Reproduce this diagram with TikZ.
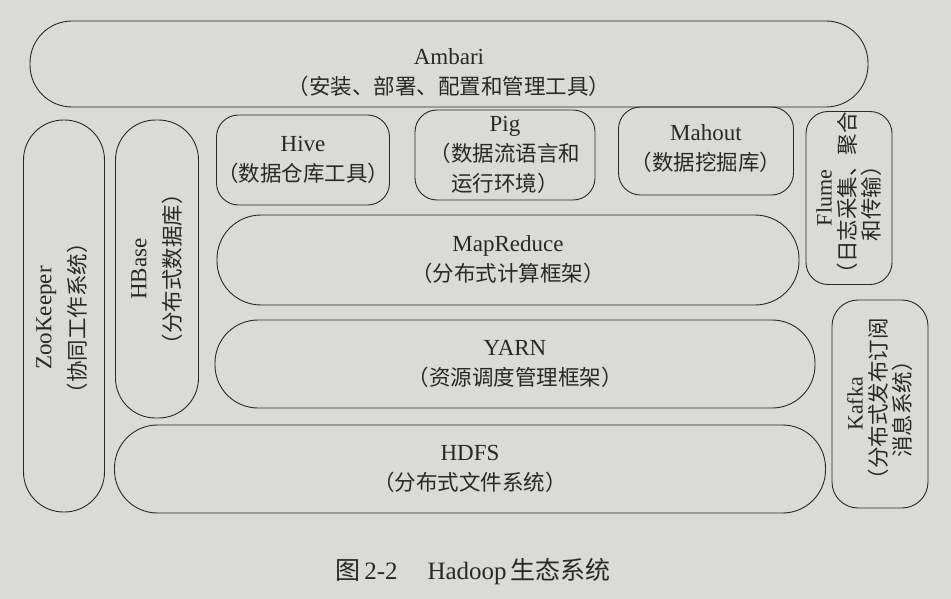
\documentclass[tikz,border=0pt]{standalone}
\usepackage{fontspec}
\setmainfont{Liberation Serif}
\newfontfamily\cjk{Noto Sans CJK SC}
\definecolor{page}{RGB}{218,218,215}
\definecolor{ink}{RGB}{40,40,40}
\begin{document}
\begin{tikzpicture}[x=1pt,y=-1pt,
  box/.style={draw=ink, line width=0.9pt, inner sep=0pt, rectangle},
  lbl/.style={text=ink, align=center, font=\fontsize{23}{30}\selectfont, inner sep=0pt},
  captiontext/.style={text=ink, font=\fontsize{25}{30}\selectfont, inner sep=0pt}]
\fill[page] (0,0) rectangle (951,599);
\useasboundingbox (0,0) rectangle (951,599);
% boxes
\node[box, minimum width=838pt, minimum height=86pt, rounded corners=42pt] (ambari) at (449,64) {};
\node[box, rotate=90, minimum width=392pt, minimum height=81pt, rounded corners=40pt] (zk) at (64,316) {};
\node[box, rotate=90, minimum width=298pt, minimum height=83pt, rounded corners=40pt] (hbase) at (157,269) {};
\node[box, minimum width=173pt, minimum height=90pt, rounded corners=22pt] (hive) at (303,160) {};
\node[box, minimum width=180pt, minimum height=90pt, rounded corners=22pt] (pig) at (505,155) {};
\node[box, minimum width=175pt, minimum height=88pt, rounded corners=22pt] (mahout) at (706,151) {};
\node[box, rotate=90, minimum width=173pt, minimum height=86pt, rounded corners=22pt] (flume) at (849,198) {};
\node[box, minimum width=582pt, minimum height=90pt, rounded corners=44pt] (mr) at (508,260) {};
\node[box, minimum width=600pt, minimum height=88pt, rounded corners=43pt] (yarn) at (515,364) {};
\node[box, rotate=90, minimum width=208pt, minimum height=96pt, rounded corners=26pt] (kafka) at (880,404) {};
\node[box, minimum width=711pt, minimum height=88pt, rounded corners=43pt] (hdfs) at (470,469) {};
% labels
\newcommand\zh[1]{{\cjk\fontsize{21.5}{30}\selectfont #1}}
\node[lbl] (tambari) at ([yshift=-9pt]ambari.center) {Ambari\\\zh{（安装、部署、配置和管理工具）}};
\node[lbl, rotate=90, font=\fontsize{23}{34}\selectfont] (tzk) at ([yshift=-2pt,xshift=-2pt]zk.center) {ZooKeeper\\\zh{（协同工作系统）}};
\node[lbl, rotate=90, font=\fontsize{23}{34}\selectfont] (thbase) at (hbase.center) {HBase\\\zh{（分布式数据库）}};
\node[lbl] (thive) at (hive.center) {Hive\\\zh{（数据仓库工具）}};
\node[lbl] (tpig) at (pig.center) {Pig\\\zh{（数据流语言和}\\\zh{运行环境）}};
\node[lbl] (tmahout) at ([yshift=2pt]mahout.center) {Mahout\\\zh{（数据挖掘库）}};
\node[lbl, rotate=90, font=\fontsize{22}{24}\selectfont] (tflume) at (flume.center) {Flume\\\zh{（日志采集、聚合}\\\zh{和传输）}};
\node[lbl, rotate=90, font=\fontsize{22}{24}\selectfont] (tkafka) at (kafka.center) {Kafka\\\zh{（分布式发布订阅}\\\zh{消息系统）}};
\node[lbl] (tmr) at (mr.center) {MapReduce\\\zh{（分布式计算框架）}};
\node[lbl] (tyarn) at (yarn.center) {YARN\\\zh{（资源调度管理框架）}};
\node[lbl] (thdfs) at (hdfs.center) {HDFS\\\zh{（分布式文件系统）}};
\node[captiontext] (caption) at (473,572) {{\cjk 图}\,2-2\hspace{1.2em}Hadoop\,{\cjk 生态系统}};
\end{tikzpicture}
\end{document}
